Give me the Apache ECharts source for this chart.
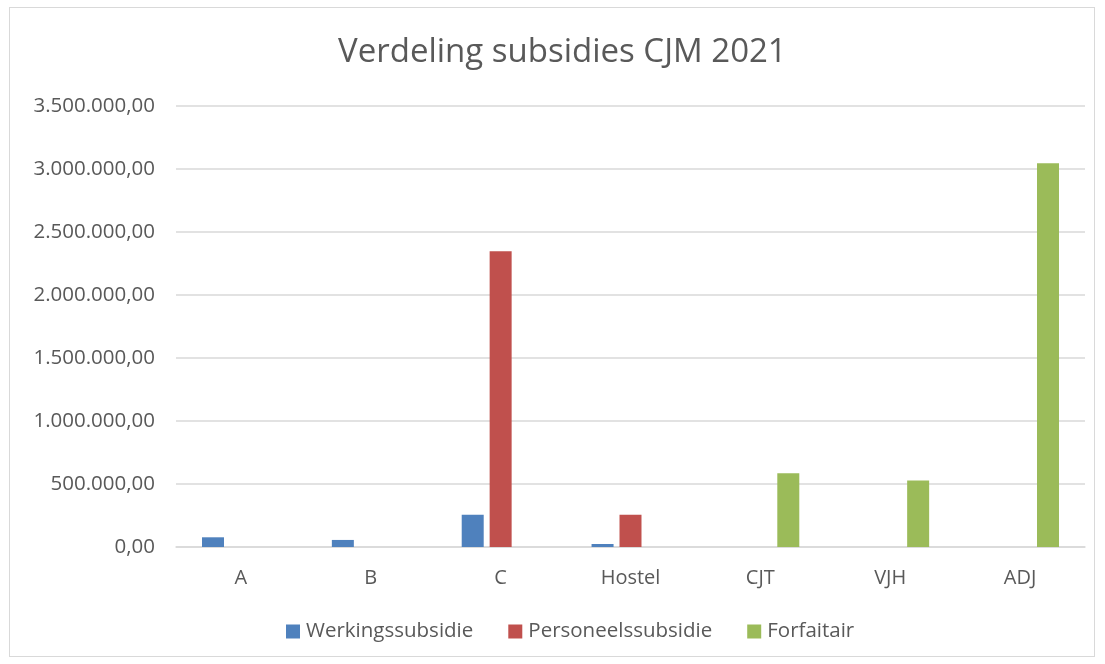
<!DOCTYPE html>
<html>
<head>
<meta charset="utf-8">
<script src="https://cdn.jsdelivr.net/npm/echarts@6/dist/echarts.min.js"></script>
<style>
  html, body { margin: 0; padding: 0; background: #fff; }
  #frame { position: absolute; left: 9px; top: 7px; width: 1086px; height: 650px; border: 1.5px solid #d9d9d9; box-sizing: border-box; }
  #chart { width: 1105px; height: 664px; }
</style>
</head>
<body>
<div id="frame"></div>
<div id="chart"></div>
<script>
var categories = ['A', 'B', 'C', 'Hostel', 'CJT', 'VJH', 'ADJ'];
var werking = [77000, 56000, 256000, 24000, 0, 0, 0];
var personeel = [0, 0, 2347000, 256000, 0, 0, 0];
var forfaitair = [0, 0, 0, 0, 586000, 527000, 3045000];
var yTicks = { min: 0, max: 3500000, interval: 500000 };

var fmt = function (v) {
  var s = String(Math.round(v)).replace(/\B(?=(\d{3})+(?!\d))/g, '.');
  return s + ',00';
};

var textColor = '#595959';
var font = "'Open Sans', sans-serif";

const getOptionChart = () => {
  return {
    animation: false,
    title: {
      text: 'Verdeling subsidies CJM 2021',
      left: 333,
      top: 31,
      textStyle: { fontFamily: font, fontSize: 33, fontWeight: 'normal', color: textColor }
    },
    grid: { left: 176, right: 20, top: 106, bottom: 117 },
    legend: {
      bottom: 17,
      left: 281,
      itemWidth: 14,
      itemHeight: 14,
      itemGap: 35,
      icon: 'rect',
      textStyle: { fontFamily: font, fontSize: 20.5, color: textColor, padding: [0, 0, 0, 1] }
    },
    xAxis: {
      type: 'category',
      data: categories,
      axisLine: { lineStyle: { color: '#d9d9d9', width: 1.5 } },
      axisTick: { show: false },
      axisLabel: { fontFamily: font, fontSize: 20, color: textColor, margin: 21 }
    },
    yAxis: {
      type: 'value',
      min: yTicks.min,
      max: yTicks.max,
      interval: yTicks.interval,
      axisLine: { show: false },
      axisTick: { show: false },
      splitLine: { lineStyle: { color: '#d9d9d9', width: 1.5 } },
      axisLabel: { fontFamily: font, fontSize: 20.5, color: textColor, margin: 21, formatter: fmt }
    },
    series: [
      { name: 'Werkingssubsidie', type: 'bar', data: werking, color: '#4f81bd', barWidth: 22, barGap: '27%', barCategoryGap: '40%' },
      { name: 'Personeelssubsidie', type: 'bar', data: personeel, color: '#c0504d', barWidth: 22, barGap: '27%' },
      { name: 'Forfaitair', type: 'bar', data: forfaitair, color: '#9bbb59', barWidth: 22, barGap: '27%' }
    ]
  };
};

const initCharts = () => {
  const chart = echarts.init(document.getElementById('chart'));
  chart.setOption(getOptionChart());
};

window.addEventListener('load', () => {
  initCharts();
});
</script>
</body>
</html>
